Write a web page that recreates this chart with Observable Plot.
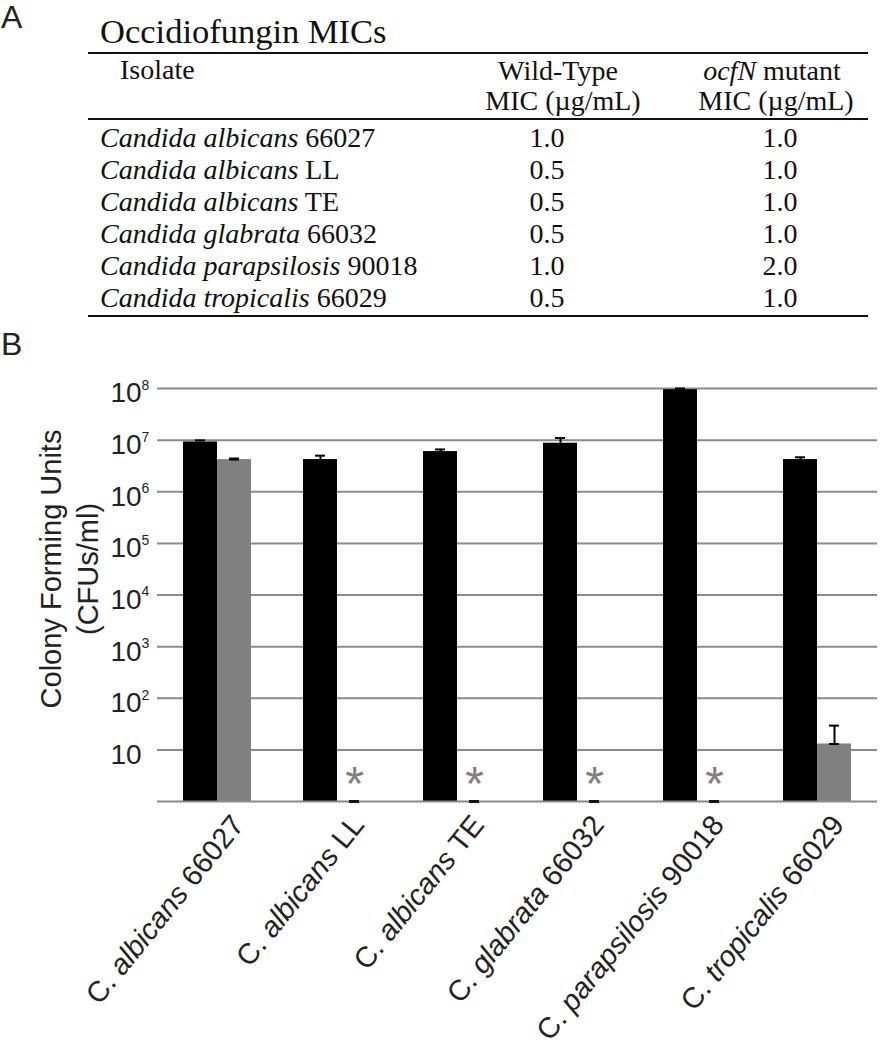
<!DOCTYPE html>
<html>
<head>
<meta charset="utf-8">
<script src="https://cdn.jsdelivr.net/npm/d3@7"></script>
<script src="https://cdn.jsdelivr.net/npm/@observablehq/plot@0.6"></script>
<style>
  body { margin: 0; background: #fff; }
  #wrap { position: relative; width: 881px; height: 1050px; overflow: hidden; }
  #table { position: absolute; left: 0; top: 0; }
  #chart { position: absolute; left: 0; top: 372px; }
</style>
</head>
<body>
<div id="wrap"><div id="table"></div><div id="chart"></div></div>
<script>
// ---------- data ----------
const genus = "Candida";
const species = ["albicans", "albicans", "albicans", "glabrata", "parapsilosis", "tropicalis"];
const strains = ["66027", "LL", "TE", "66032", "90018", "66029"];
const wtMIC  = ["1.0", "0.5", "0.5", "0.5", "1.0", "0.5"];
const mutMIC = ["1.0", "1.0", "1.0", "1.0", "2.0", "1.0"];

const isolates = species.map((s, i) => `C. ${s} ${strains[i]}`);
const wtCFU  = [9.2e6, 4.2e6, 6.0e6, 8.7e6, 9.5e7, 4.2e6];
const wtErr  = [0.7e6, 0.8e6, 0.6e6, 2.3e6, 0.5e7, 0.45e6];
const mutCFU = [4.2e6, 0, 0, 0, 0, 13];
const mutErr = [0.2e6, 0, 0, 0, 0, 16.5];

const yTickValues = [10, 1e2, 1e3, 1e4, 1e5, 1e6, 1e7, 1e8];
const yTickExps   = ["", "2", "3", "4", "5", "6", "7", "8"];

const tableTitle = "Occidiofungin MICs";
const yTitle = "Colony Forming Units\n(CFUs/ml)";

// ---------- panel A (table) ----------
const SANS = "'Liberation Sans', Arial, sans-serif";
const SERIF = "'Liberation Serif', 'Times New Roman', serif";
const t = d3.create("svg").attr("width", 881).attr("height", 372)
  .style("font-family", SERIF).attr("fill", "#111");
t.append("text").attr("x", 1).attr("y", 28).style("font-family", SANS).style("font-size", "32px").attr("fill", "#222").text("A");
t.append("text").attr("x", 1).attr("y", 355).style("font-family", SANS).style("font-size", "32px").attr("fill", "#222").text("B");
t.append("text").attr("x", 100).attr("y", 43).style("font-size", "34.5px").text(tableTitle);
[53, 119, 316].forEach(y => t.append("line").attr("x1", 88).attr("x2", 868).attr("y1", y).attr("y2", y).attr("stroke", "#111").attr("stroke-width", 2));
const fs = "28px";
t.append("text").attr("x", 120).attr("y", 79).style("font-size", fs).text("Isolate");
t.append("text").attr("x", 558).attr("y", 80).attr("text-anchor", "middle").style("font-size", fs).text("Wild-Type");
t.append("text").attr("x", 563).attr("y", 110).attr("text-anchor", "middle").style("font-size", fs).text("MIC (µg/mL)");
const h2 = t.append("text").attr("x", 772).attr("y", 80).attr("text-anchor", "middle").style("font-size", fs);
h2.append("tspan").style("font-style", "italic").text("ocfN");
h2.append("tspan").text(" mutant");
t.append("text").attr("x", 776).attr("y", 110).attr("text-anchor", "middle").style("font-size", fs).text("MIC (µg/mL)");
species.forEach((s, i) => {
  const y = 146.7 + 32 * i;
  const r = t.append("text").attr("x", 100).attr("y", y).style("font-size", fs);
  r.append("tspan").style("font-style", "italic").text(`${genus} ${s}`);
  r.append("tspan").text(` ${strains[i]}`);
  t.append("text").attr("x", 547).attr("y", y).attr("text-anchor", "middle").style("font-size", fs).text(wtMIC[i]);
  t.append("text").attr("x", 780).attr("y", y).attr("text-anchor", "middle").style("font-size", fs).text(mutMIC[i]);
});
document.getElementById("table").append(t.node());

// ---------- panel B (chart) ----------
const rows = isolates.map((d, i) => ({isolate: d, wt: wtCFU[i], wtErr: wtErr[i], mut: mutCFU[i], mutErr: mutErr[i]}));
const mutRows = rows.filter(d => d.mut > 0);
const zeroRows = rows.filter(d => d.mut === 0);
const tickRows = yTickValues.map((v, i) => ({v, e: yTickExps[i]}));
const GRID = "#8a8a8a";

const plot = Plot.plot({
  width: 881,
  height: 678,
  marginTop: 16,
  marginBottom: 249,
  marginLeft: 157,
  marginRight: 4,
  style: {fontFamily: SANS, color: "#222", background: "transparent", overflow: "visible"},
  x: {domain: isolates, padding: 0, axis: null},
  y: {type: "log", domain: [1, 1e8], axis: null},
  marks: [
    Plot.ruleY(yTickValues, {stroke: GRID, strokeWidth: 2}),
    Plot.barY(rows, {x: "isolate", y1: () => 1, y2: "wt", fill: "#000", insetLeft: 43, insetRight: 43, dx: -17}),
    Plot.barY(mutRows, {x: "isolate", y1: () => 1, y2: "mut", fill: "#808080", insetLeft: 43, insetRight: 43, dx: 17}),
    Plot.ruleY([1], {stroke: GRID, strokeWidth: 2}),
    // error bars
    Plot.ruleX(rows, {x: "isolate", y1: "wt", y2: d => d.wt + d.wtErr, dx: -17, stroke: "#000", strokeWidth: 2}),
    Plot.tickY(rows, {x: "isolate", y: d => d.wt + d.wtErr, insetLeft: 55, insetRight: 55, dx: -17, stroke: "#000", strokeWidth: 2}),
    Plot.ruleX(mutRows, {x: "isolate", y1: "mut", y2: d => d.mut + d.mutErr, dx: 17, stroke: "#000", strokeWidth: 2}),
    Plot.tickY(mutRows, {x: "isolate", y: d => d.mut + d.mutErr, insetLeft: 55, insetRight: 55, dx: 17, stroke: "#000", strokeWidth: 2}),
    Plot.tickY(mutRows, {x: "isolate", y: "mut", insetLeft: 55, insetRight: 55, dx: 17, stroke: "#000", strokeWidth: 2}),
    // zero-count markers and asterisks
    Plot.tickY(zeroRows, {x: "isolate", y: () => 1, insetLeft: 55, insetRight: 55, dx: 17, stroke: "#111", strokeWidth: 3}),
    Plot.text(zeroRows, {x: "isolate", y: () => 1, text: () => "*", dx: 17, dy: -2, lineAnchor: "bottom", fontSize: 48, fill: "#808080"}),
    // y tick labels
    Plot.text(tickRows, {y: "v", text: () => "10", frameAnchor: "left", textAnchor: "start", dx: -47, dy: 5, fontSize: 28, fill: "#222"}),
    Plot.text(tickRows.filter(d => d.e), {y: "v", text: "e", frameAnchor: "left", textAnchor: "start", dx: -16, dy: -3, fontSize: 14, fill: "#222"}),
    // y title
    Plot.text([yTitle], {text: d => d, frameAnchor: "left", rotate: -90, textAnchor: "middle", lineAnchor: "top", lineHeight: 1.28, fontSize: 29, dx: -123, dy: -26, fill: "#222"}),
    // x axis labels
    Plot.axisX({tickRotate: -51, tickSize: 0, tickPadding: 11, fontSize: 29, dx: 12, textAnchor: "end", lineAnchor: "top", label: null, fill: "#222"})
  ]
});

// mixed italic for x labels
plot.querySelectorAll("text").forEach(el => {
  const i = isolates.indexOf(el.textContent);
  if (i >= 0) {
    const sel = d3.select(el);
    sel.text(null);
    sel.append("tspan").text("C. ");
    sel.append("tspan").style("font-style", "italic").text(species[i]);
    sel.append("tspan").text(" " + strains[i]);
  }
});
document.getElementById("chart").append(plot);
</script>
</body>
</html>
